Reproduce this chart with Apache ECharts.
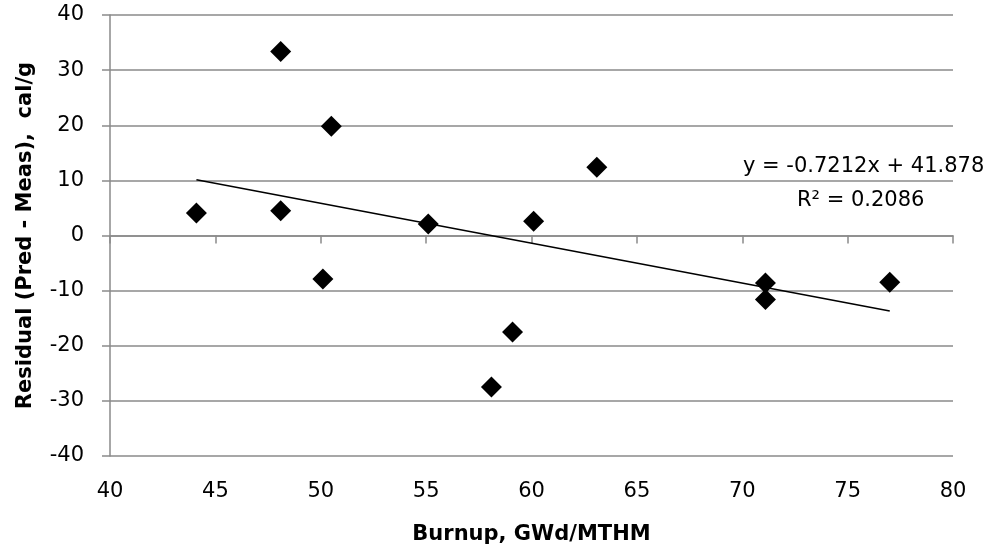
<!DOCTYPE html>
<html>
<head>
<meta charset="utf-8">
<script src="https://cdn.jsdelivr.net/npm/echarts@6/dist/echarts.min.js"></script>
<style>
  html, body { margin: 0; padding: 0; background: #fff; }
  #main { width: 992px; height: 550px; }
</style>
</head>
<body>
<div id="main"></div>
<script>
// burnup (GWd/MTHM) vs residual (cal/g)
var burnup = [44.1, 48.1, 48.1, 50.5, 50.1, 55.1, 60.1, 63.1, 59.1, 58.1, 71.1, 71.1, 77.0];
var residual = [4.1, 4.5, 33.4, 19.8, -7.9, 2.1, 2.6, 12.4, -17.5, -27.5, -8.6, -11.6, -8.5];

// linear trendline end points
var trendX = [44.1, 77.0];
var trendY = [10.1, -13.7];

var xTicks = ['40', '45', '50', '55', '60', '65', '70', '75', '80'];
var yTicks = ['-40', '-30', '-20', '-10', '0', '10', '20', '30', '40'];

var eqText = 'y = -0.7212x + 41.878';
var r2Text = 'R² = 0.2086';

var chart = echarts.init(document.getElementById('main'));

var points = burnup.map(function (x, i) { return [x, residual[i]]; });
var trend = trendX.map(function (x, i) { return [x, trendY[i]]; });

var font = 'DejaVu Sans';
var gridColor = '#8a8a8a';

var option = {
  animation: false,
  backgroundColor: '#fff',
  grid: {
    left: 110,
    right: 39,
    top: 15,
    bottom: 94
  },
  xAxis: {
    type: 'value',
    min: 40,
    max: 80,
    interval: 5,
    name: 'Burnup, GWd/MTHM',
    nameLocation: 'middle',
    nameGap: 68,
    nameTextStyle: { fontFamily: font, fontWeight: 'bold', fontSize: 21, color: '#000' },
    axisLine: { show: true, lineStyle: { color: gridColor, width: 1.5 } },
    axisTick: { show: true, length: 8, lineStyle: { color: gridColor, width: 1.5 } },
    axisLabel: {
      margin: 25,
      fontFamily: font,
      fontSize: 21,
      color: '#000',
      formatter: function (v) { return xTicks[Math.round((v - 40) / 5)]; }
    },
    splitLine: { show: false }
  },
  yAxis: {
    type: 'value',
    min: -40,
    max: 40,
    interval: 10,
    name: 'Residual (Pred - Meas),  cal/g',
    nameLocation: 'middle',
    nameGap: 74,
    nameTextStyle: { fontFamily: font, fontWeight: 'bold', fontSize: 21, color: '#000' },
    axisLine: { show: true, lineStyle: { color: gridColor, width: 1.5 } },
    axisTick: { show: true, length: 8, lineStyle: { color: gridColor, width: 1.5 } },
    axisLabel: {
      margin: 26,
      fontFamily: font,
      fontSize: 21,
      color: '#000',
      formatter: function (v) { return yTicks[Math.round((v + 40) / 10)]; }
    },
    splitLine: { show: true, lineStyle: { color: gridColor, width: 1.5 } }
  },
  graphic: [{
    type: 'text',
    left: 743,
    top: 156,
    style: { text: eqText, fontFamily: font, fontSize: 21, fill: '#000' }
  }, {
    type: 'text',
    left: 797,
    top: 190,
    style: { text: r2Text, fontFamily: font, fontSize: 21, fill: '#000' }
  }],
  series: [{
    type: 'line',
    data: trend,
    symbol: 'none',
    silent: true,
    lineStyle: { color: '#000', width: 1.5 },
    z: 2
  }, {
    type: 'scatter',
    data: points,
    symbol: 'diamond',
    symbolSize: 21,
    itemStyle: { color: '#000', opacity: 1 },
    z: 3
  }]
};

chart.setOption(option);
</script>
</body>
</html>
